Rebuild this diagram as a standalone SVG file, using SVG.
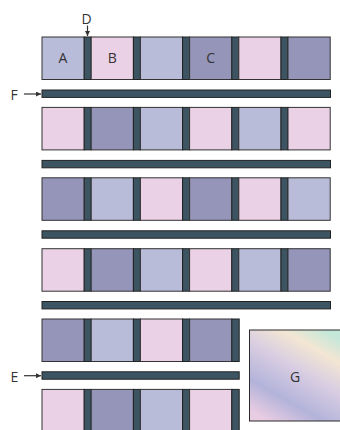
<svg xmlns="http://www.w3.org/2000/svg" width="340" height="430" viewBox="0 0 340 430">
<style>
.l{fill:#b9bcd9;stroke:#333;stroke-width:1}
.p{fill:#ebd1e5;stroke:#333;stroke-width:1}
.k{fill:#9495b9;stroke:#333;stroke-width:1}
.b{fill:#3d5563;stroke:#222;stroke-width:1}
.t{font-family:"Open Sans","Liberation Sans",sans-serif;font-size:14px;fill:#333}
.c{stroke:#333;stroke-width:1.2;fill:none}
</style>
<defs>
<marker id="ah" viewBox="0 0 10 10" refX="10" refY="5" markerWidth="5" markerHeight="5" orient="auto" markerUnits="userSpaceOnUse">
<path d="M0,0 L10,5 L0,10 z" fill="#333"/>
</marker>
<linearGradient id="gg" x1="0.2" y1="1" x2="0.8" y2="0">
<stop offset="0" stop-color="#e8cce2"/>
<stop offset="0.25" stop-color="#b3b3da"/>
<stop offset="0.55" stop-color="#d8cde2"/>
<stop offset="0.8" stop-color="#f3e6d3"/>
<stop offset="1" stop-color="#c3e7d9"/>
</linearGradient>
</defs>
<rect width="340" height="430" fill="#fff"/>

<g id="row1">
<rect class="l" x="42" y="37" width="42.2" height="42.5"/>
<rect class="b" x="84.2" y="37" width="7" height="42.5"/>
<rect class="p" x="91.2" y="37" width="42.2" height="42.5"/>
<rect class="b" x="133.4" y="37" width="7" height="42.5"/>
<rect class="l" x="140.4" y="37" width="42.2" height="42.5"/>
<rect class="b" x="182.6" y="37" width="7" height="42.5"/>
<rect class="k" x="189.6" y="37" width="42.2" height="42.5"/>
<rect class="b" x="231.8" y="37" width="7" height="42.5"/>
<rect class="p" x="238.8" y="37" width="42.2" height="42.5"/>
<rect class="b" x="281" y="37" width="7" height="42.5"/>
<rect class="k" x="288" y="37" width="42.2" height="42.5"/>
</g>
<g id="A"><text class="t" x="63" y="63" text-anchor="middle">A</text></g>
<g id="B"><text class="t" x="112.3" y="63" text-anchor="middle">B</text></g>
<g id="C"><text class="t" x="210.7" y="63" text-anchor="middle">C</text></g>

<g id="barF"><rect class="b" x="42" y="90" width="288.5" height="7.4"/></g>

<g id="row2">
<rect class="p" x="42" y="107.4" width="42.2" height="42.5"/>
<rect class="b" x="84.2" y="107.4" width="7" height="42.5"/>
<rect class="k" x="91.2" y="107.4" width="42.2" height="42.5"/>
<rect class="b" x="133.4" y="107.4" width="7" height="42.5"/>
<rect class="l" x="140.4" y="107.4" width="42.2" height="42.5"/>
<rect class="b" x="182.6" y="107.4" width="7" height="42.5"/>
<rect class="p" x="189.6" y="107.4" width="42.2" height="42.5"/>
<rect class="b" x="231.8" y="107.4" width="7" height="42.5"/>
<rect class="l" x="238.8" y="107.4" width="42.2" height="42.5"/>
<rect class="b" x="281" y="107.4" width="7" height="42.5"/>
<rect class="p" x="288" y="107.4" width="42.2" height="42.5"/>
</g>

<g id="bar2"><rect class="b" x="42" y="160.4" width="288.5" height="7.4"/></g>

<g id="row3">
<rect class="k" x="42" y="177.8" width="42.2" height="42.5"/>
<rect class="b" x="84.2" y="177.8" width="7" height="42.5"/>
<rect class="l" x="91.2" y="177.8" width="42.2" height="42.5"/>
<rect class="b" x="133.4" y="177.8" width="7" height="42.5"/>
<rect class="p" x="140.4" y="177.8" width="42.2" height="42.5"/>
<rect class="b" x="182.6" y="177.8" width="7" height="42.5"/>
<rect class="k" x="189.6" y="177.8" width="42.2" height="42.5"/>
<rect class="b" x="231.8" y="177.8" width="7" height="42.5"/>
<rect class="p" x="238.8" y="177.8" width="42.2" height="42.5"/>
<rect class="b" x="281" y="177.8" width="7" height="42.5"/>
<rect class="l" x="288" y="177.8" width="42.2" height="42.5"/>
</g>

<g id="bar3"><rect class="b" x="42" y="230.8" width="288.5" height="7.4"/></g>

<g id="row4">
<rect class="p" x="42" y="248.7" width="42.2" height="42.5"/>
<rect class="b" x="84.2" y="248.7" width="7" height="42.5"/>
<rect class="k" x="91.2" y="248.7" width="42.2" height="42.5"/>
<rect class="b" x="133.4" y="248.7" width="7" height="42.5"/>
<rect class="l" x="140.4" y="248.7" width="42.2" height="42.5"/>
<rect class="b" x="182.6" y="248.7" width="7" height="42.5"/>
<rect class="p" x="189.6" y="248.7" width="42.2" height="42.5"/>
<rect class="b" x="231.8" y="248.7" width="7" height="42.5"/>
<rect class="l" x="238.8" y="248.7" width="42.2" height="42.5"/>
<rect class="b" x="281" y="248.7" width="7" height="42.5"/>
<rect class="k" x="288" y="248.7" width="42.2" height="42.5"/>
</g>

<g id="bar4"><rect class="b" x="42" y="301.5" width="288.5" height="7.4"/></g>

<g id="row5">
<rect class="k" x="42" y="319" width="42.2" height="42.5"/>
<rect class="b" x="84.2" y="319" width="7" height="42.5"/>
<rect class="l" x="91.2" y="319" width="42.2" height="42.5"/>
<rect class="b" x="133.4" y="319" width="7" height="42.5"/>
<rect class="p" x="140.4" y="319" width="42.2" height="42.5"/>
<rect class="b" x="182.6" y="319" width="7" height="42.5"/>
<rect class="k" x="189.6" y="319" width="42.2" height="42.5"/>
<rect class="b" x="231.8" y="319" width="7.4" height="42.5"/>
</g>

<g id="barE"><rect class="b" x="42" y="371.8" width="197.2" height="7.4"/></g>

<g id="row6">
<rect class="p" x="42" y="389.4" width="42.2" height="42.5"/>
<rect class="b" x="84.2" y="389.4" width="7" height="42.5"/>
<rect class="k" x="91.2" y="389.4" width="42.2" height="42.5"/>
<rect class="b" x="133.4" y="389.4" width="7" height="42.5"/>
<rect class="l" x="140.4" y="389.4" width="42.2" height="42.5"/>
<rect class="b" x="182.6" y="389.4" width="7" height="42.5"/>
<rect class="p" x="189.6" y="389.4" width="42.2" height="42.5"/>
<rect class="b" x="231.8" y="389.4" width="7.4" height="42.5"/>
</g>

<g id="G">
<rect x="249.5" y="330" width="95" height="91" fill="url(#gg)" stroke="#2a2a2a" stroke-width="1"/>
<text class="t" x="295" y="381.5" text-anchor="middle">G</text>
</g>

<g id="labels">
<text class="t" x="86.7" y="23.5" text-anchor="middle">D</text>
<text class="t" x="10.5" y="99.5">F</text>
<text class="t" x="10.5" y="381.5">E</text>
</g>

<g id="connectors">
<line class="c" x1="87.5" y1="25.5" x2="87.5" y2="36" marker-end="url(#ah)"/>
<line class="c" x1="24" y1="94" x2="41" y2="94" marker-end="url(#ah)"/>
<line class="c" x1="24" y1="375.7" x2="41" y2="375.7" marker-end="url(#ah)"/>
</g>
</svg>
